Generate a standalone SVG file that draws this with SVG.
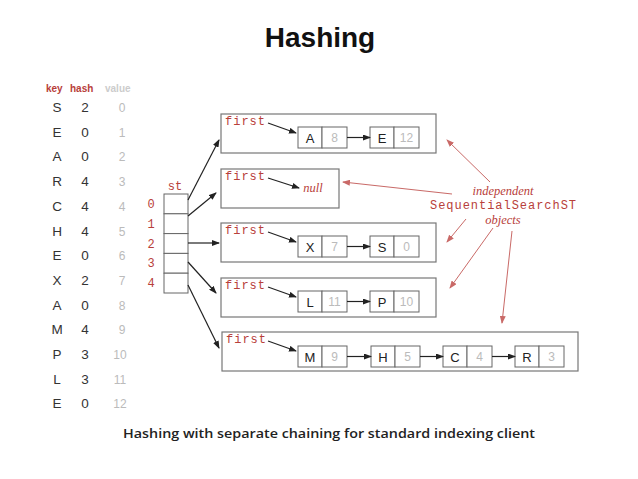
<svg xmlns="http://www.w3.org/2000/svg" width="638" height="479" viewBox="0 0 638 479">
<defs>
<marker id="ah" markerUnits="userSpaceOnUse" markerWidth="8" markerHeight="6" refX="7" refY="3" orient="auto"><path d="M0,0 L8,3 L0,6 z" fill="#222"/></marker>
<marker id="ahr" markerUnits="userSpaceOnUse" markerWidth="8" markerHeight="6" refX="7" refY="3" orient="auto"><path d="M0,0 L8,3 L0,6 z" fill="#c0504d"/></marker>
<style>
.tbl{font-family:"Liberation Sans",Arial,sans-serif;font-size:13.5px;fill:#333;text-anchor:middle}
.val{font-family:"Liberation Sans",Arial,sans-serif;font-size:12px;fill:#bbb;text-anchor:middle}
.hdr{font-family:"Liberation Sans",Arial,sans-serif;font-size:10px;font-weight:bold}
.mono{font-family:"Liberation Mono","DejaVu Sans Mono",monospace;font-size:12px;fill:#b8403a}
.box{fill:#fff;stroke:#777;stroke-width:1.2}
.cell{fill:#fff;stroke:#666;stroke-width:1}
.key{font-family:"Liberation Sans",Arial,sans-serif;font-size:13px;fill:#222;text-anchor:middle}
.nv{font-family:"Liberation Sans",Arial,sans-serif;font-size:12px;fill:#bbb;text-anchor:middle}
.arr{stroke:#222;stroke-width:1.2;fill:none;marker-end:url(#ah)}
.rarr{stroke:#c0504d;stroke-width:1;fill:none;marker-end:url(#ahr);opacity:0.85}
.it{font-family:"Liberation Serif","Times New Roman",serif;font-style:italic;font-size:12.5px;fill:#b8403a;text-anchor:middle}
</style>
</defs>
<rect width="638" height="479" fill="#fff"/>
<text x="320" y="47" font-family="Liberation Sans,Arial,sans-serif" font-size="28" font-weight="bold" text-anchor="middle" fill="#111">Hashing</text>

<g id="table">
<text x="46" y="92" class="hdr" fill="#b8403a">key</text>
<text x="70" y="92" class="hdr" fill="#b8403a">hash</text>
<text x="105" y="92" class="hdr" fill="#ccc">value</text>
<g class="tbl">
<text x="57" y="112">S</text><text x="57" y="136.7">E</text><text x="57" y="161.4">A</text><text x="57" y="186.1">R</text><text x="57" y="210.8">C</text><text x="57" y="235.5">H</text><text x="57" y="260.2">E</text><text x="57" y="284.9">X</text><text x="57" y="309.6">A</text><text x="57" y="334.3">M</text><text x="57" y="359">P</text><text x="57" y="383.7">L</text><text x="57" y="408.4">E</text>
<text x="85" y="112">2</text><text x="85" y="136.7">0</text><text x="85" y="161.4">0</text><text x="85" y="186.1">4</text><text x="85" y="210.8">4</text><text x="85" y="235.5">4</text><text x="85" y="260.2">0</text><text x="85" y="284.9">2</text><text x="85" y="309.6">0</text><text x="85" y="334.3">4</text><text x="85" y="359">3</text><text x="85" y="383.7">3</text><text x="85" y="408.4">0</text>
</g>
<g class="val">
<text x="122" y="112">0</text><text x="122" y="136.7">1</text><text x="122" y="161.4">2</text><text x="122" y="186.1">3</text><text x="122" y="210.8">4</text><text x="122" y="235.5">5</text><text x="122" y="260.2">6</text><text x="122" y="284.9">7</text><text x="122" y="309.6">8</text><text x="122" y="334.3">9</text><text x="120" y="359">10</text><text x="120" y="383.7">11</text><text x="120" y="408.4">12</text>
</g>
</g>

<g id="st">
<text x="175" y="190" class="mono" text-anchor="middle">st</text>
<rect x="164" y="194" width="24" height="19.8" class="cell"/>
<rect x="164" y="213.8" width="24" height="19.8" class="cell"/>
<rect x="164" y="233.6" width="24" height="19.8" class="cell"/>
<rect x="164" y="253.4" width="24" height="19.8" class="cell"/>
<rect x="164" y="273.2" width="24" height="19.8" class="cell"/>
<text x="151" y="208" class="mono" text-anchor="middle">0</text>
<text x="151" y="227.5" class="mono" text-anchor="middle">1</text>
<text x="151" y="247.5" class="mono" text-anchor="middle">2</text>
<text x="151" y="267" class="mono" text-anchor="middle">3</text>
<text x="151" y="286.5" class="mono" text-anchor="middle">4</text>
</g>

<g id="list0">
<rect x="221" y="114" width="215" height="39" class="box"/>
<text x="225" y="125" class="mono" textLength="40">first</text>
<rect x="298" y="127" width="24" height="21" class="cell"/><rect x="322" y="127" width="25" height="21" class="cell"/>
<text x="310" y="142.5" class="key">A</text><text x="334.5" y="142" class="nv">8</text>
<rect x="370" y="127" width="24" height="21" class="cell"/><rect x="394" y="127" width="25" height="21" class="cell"/>
<text x="382" y="142.5" class="key">E</text><text x="406.5" y="142" class="nv">12</text>
</g>

<g id="list1">
<rect x="221" y="169" width="118" height="39" class="box"/>
<text x="225" y="180" class="mono" textLength="40">first</text>
<text x="313" y="192" class="it" font-size="13">null</text>
</g>

<g id="list2">
<rect x="221" y="223" width="215" height="39" class="box"/>
<text x="225" y="234" class="mono" textLength="40">first</text>
<rect x="298" y="236" width="24" height="21" class="cell"/><rect x="322" y="236" width="25" height="21" class="cell"/>
<text x="310" y="251.5" class="key">X</text><text x="334.5" y="251" class="nv">7</text>
<rect x="370" y="236" width="24" height="21" class="cell"/><rect x="394" y="236" width="25" height="21" class="cell"/>
<text x="382" y="251.5" class="key">S</text><text x="406.5" y="251" class="nv">0</text>
</g>

<g id="list3">
<rect x="221" y="278" width="215" height="39" class="box"/>
<text x="225" y="289" class="mono" textLength="40">first</text>
<rect x="298" y="291" width="24" height="21" class="cell"/><rect x="322" y="291" width="25" height="21" class="cell"/>
<text x="310" y="306.5" class="key">L</text><text x="334.5" y="306" class="nv">11</text>
<rect x="370" y="291" width="24" height="21" class="cell"/><rect x="394" y="291" width="25" height="21" class="cell"/>
<text x="382" y="306.5" class="key">P</text><text x="406.5" y="306" class="nv">10</text>
</g>

<g id="list4">
<rect x="222" y="332" width="356" height="39" class="box"/>
<text x="226" y="343" class="mono" textLength="40">first</text>
<rect x="298" y="346" width="24" height="21" class="cell"/><rect x="322" y="346" width="25" height="21" class="cell"/>
<text x="310" y="361.5" class="key">M</text><text x="334.5" y="361" class="nv">9</text>
<rect x="371" y="346" width="24" height="21" class="cell"/><rect x="395" y="346" width="25" height="21" class="cell"/>
<text x="383" y="361.5" class="key">H</text><text x="407.5" y="361" class="nv">5</text>
<rect x="443" y="346" width="24" height="21" class="cell"/><rect x="467" y="346" width="25" height="21" class="cell"/>
<text x="455" y="361.5" class="key">C</text><text x="479.5" y="361" class="nv">4</text>
<rect x="515" y="346" width="24" height="21" class="cell"/><rect x="539" y="346" width="25" height="21" class="cell"/>
<text x="527" y="361.5" class="key">R</text><text x="551.5" y="361" class="nv">3</text>
</g>

<g id="annotation">
<text x="503" y="195" class="it">independent</text>
<text x="503" y="208.5" class="mono" text-anchor="middle" textLength="146">SequentialSearchST</text>
<text x="503" y="224" class="it">objects</text>
</g>

<g id="connectors">
<line x1="188" y1="200" x2="219" y2="140" class="arr"/>
<line x1="188" y1="216" x2="216" y2="193" class="arr"/>
<line x1="188" y1="243" x2="219" y2="243" class="arr"/>
<line x1="188" y1="262" x2="216" y2="293" class="arr"/>
<line x1="188" y1="285" x2="219" y2="348" class="arr"/>
<line x1="268" y1="123" x2="296" y2="133" class="arr"/>
<line x1="268" y1="178" x2="299" y2="188" class="arr"/>
<line x1="268" y1="232" x2="296" y2="242" class="arr"/>
<line x1="268" y1="287" x2="296" y2="297" class="arr"/>
<line x1="268" y1="341" x2="296" y2="351" class="arr"/>
<line x1="347" y1="137.5" x2="370" y2="137.5" class="arr"/>
<line x1="347" y1="246.5" x2="370" y2="246.5" class="arr"/>
<line x1="347" y1="301.5" x2="370" y2="301.5" class="arr"/>
<line x1="347" y1="356.5" x2="371" y2="356.5" class="arr"/>
<line x1="420" y1="356.5" x2="443" y2="356.5" class="arr"/>
<line x1="492" y1="356.5" x2="515" y2="356.5" class="arr"/>
<line x1="490" y1="182" x2="447" y2="140" class="rarr"/>
<line x1="452" y1="194" x2="343" y2="182" class="rarr"/>
<line x1="466" y1="219" x2="447" y2="242" class="rarr"/>
<line x1="493" y1="228" x2="450" y2="288" class="rarr"/>
<line x1="512" y1="231" x2="502" y2="323" class="rarr"/>
</g>

<text x="329" y="438" font-family="Open Sans,Liberation Sans,sans-serif" font-size="13" font-weight="600" fill="#222" text-anchor="middle" textLength="412" lengthAdjust="spacingAndGlyphs">Hashing with separate chaining for standard indexing client</text>
</svg>
